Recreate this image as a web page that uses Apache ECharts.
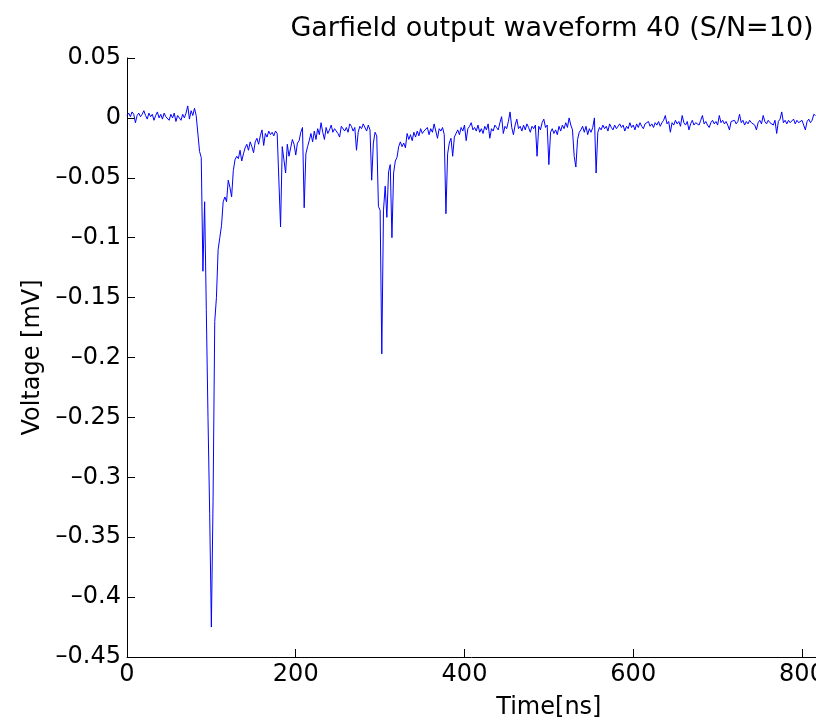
<!DOCTYPE html>
<html>
<head>
<meta charset="utf-8">
<script src="https://cdn.jsdelivr.net/npm/echarts@6/dist/echarts.min.js"></script>
<style>html,body{margin:0;padding:0;background:#fff;}#c{width:816px;height:723px;}</style>
</head>
<body>
<div id="c"></div>
<script>
// Waveform samples, one every 2 ns starting at t = 0 ns
const timeStepNs = 2;
const voltage = [
  0.002, 0.004, 0.001, 0.005, 0.003, -0.004, 0.002, 0.004, 0.001, 0.003,
  0.006, 0.002, -0.001, 0.004, 0.001, 0.003, -0.002, 0.002, 0.005, 0.000,
  0.003, -0.001, 0.004, 0.001, 0.002, -0.002, 0.003, 0.000, 0.004, -0.003,
  0.002, 0.001, -0.002, 0.003, 0.000, 0.004, 0.010, -0.001, 0.006, 0.002,
  0.008, 0.002, 0.003, -0.028, -0.033, -0.128, -0.070, -0.160, -0.250, -0.330,
  -0.425, -0.320, -0.170, -0.150, -0.110, -0.100, -0.090, -0.070, -0.066, -0.070,
  -0.052, -0.058, -0.066, -0.044, -0.035, -0.032, -0.034, -0.027, -0.036, -0.030,
  -0.025, -0.022, -0.027, -0.020, -0.024, -0.029, -0.020, -0.017, -0.022, -0.015,
  -0.010, -0.023, -0.013, -0.016, -0.011, -0.014, -0.012, -0.015, -0.011, -0.013,
  -0.014, -0.091, -0.024, -0.035, -0.046, -0.022, -0.032, -0.025, -0.018, -0.022,
  -0.031, -0.021, -0.019, -0.012, -0.008, -0.075, -0.030, -0.024, -0.019, -0.013,
  -0.020, -0.011, -0.018, -0.009, -0.014, -0.004, -0.012, -0.018, -0.008, -0.013,
  -0.010, -0.006, -0.012, -0.009, -0.008, -0.013, -0.016, -0.007, -0.006, -0.011,
  -0.008, -0.012, -0.005, -0.007, -0.011, -0.008, -0.027, -0.012, -0.007, -0.009,
  -0.005, -0.004, -0.011, -0.006, -0.010, -0.052, -0.021, -0.012, -0.015, -0.074,
  -0.077, -0.197, -0.077, -0.057, -0.083, -0.045, -0.039, -0.100, -0.046, -0.036,
  -0.033, -0.024, -0.020, -0.024, -0.021, -0.025, -0.013, -0.018, -0.014, -0.019,
  -0.012, -0.016, -0.011, -0.015, -0.009, -0.013, -0.011, -0.010, -0.008, -0.014,
  -0.009, -0.012, -0.005, -0.004, -0.017, -0.009, -0.011, -0.008, -0.014, -0.080,
  -0.030, -0.021, -0.017, -0.032, -0.016, -0.013, -0.010, -0.014, -0.008, -0.011,
  -0.006, -0.019, -0.009, -0.007, -0.004, -0.010, -0.008, -0.011, -0.006, -0.012,
  -0.009, -0.013, -0.007, -0.010, -0.005, -0.017, -0.009, -0.011, -0.006, -0.008,
  -0.010, -0.004, 0.001, -0.013, -0.007, -0.009, -0.003, 0.005, -0.008, -0.014,
  -0.006, -0.001, -0.009, -0.007, -0.011, -0.006, -0.010, -0.005, -0.008, -0.012,
  -0.007, -0.009, -0.006, -0.032, -0.007, -0.010, -0.004, -0.001, -0.008, -0.006,
  -0.039, -0.012, -0.009, -0.013, -0.010, -0.014, -0.007, -0.011, -0.006, -0.009,
  -0.004, -0.008, 0.000, -0.006, -0.010, -0.032, -0.041, -0.018, -0.012, -0.010,
  -0.007, -0.012, -0.007, -0.014, -0.009, -0.012, -0.008, 0.000, -0.046, -0.012,
  -0.008, -0.010, -0.006, -0.009, -0.007, -0.011, -0.005, -0.008, -0.010, -0.006,
  -0.009, -0.007, -0.005, -0.008, -0.006, -0.011, -0.007, -0.009, -0.004, -0.008,
  -0.006, -0.010, -0.005, -0.008, -0.004, -0.007, -0.009, -0.005, -0.006, -0.003,
  -0.007, -0.005, -0.008, -0.004, -0.006, -0.003, -0.007, -0.004, -0.002, 0.002,
  -0.005, -0.003, -0.012, -0.004, -0.006, -0.002, -0.005, -0.003, -0.007, 0.002,
  -0.004, -0.006, -0.003, -0.010, -0.005, -0.002, -0.006, -0.004, -0.003, -0.006,
  -0.002, 0.002, -0.005, -0.003, -0.006, -0.008, -0.004, -0.002, -0.005, -0.003,
  -0.006, 0.002, -0.004, -0.002, -0.005, -0.003, -0.006, -0.010, -0.003, -0.004,
  -0.002, -0.005, -0.003, 0.003, -0.004, -0.002, -0.006, -0.003, -0.005, -0.002,
  -0.004, -0.003, -0.006, -0.010, -0.004, -0.002, -0.005, 0.002, -0.003, -0.005,
  -0.002, -0.004, -0.003, -0.006, -0.002, -0.013, -0.003, -0.001, 0.005, -0.004,
  -0.002, -0.005, -0.002, -0.004, -0.003, -0.001, -0.005, -0.002, -0.004, -0.003,
  -0.002, -0.006, -0.010, -0.003, -0.001, -0.004, -0.002, 0.003, 0.002
];
// The original axis runs to 1000 ns but the picture is cropped at ~816 ns
const xTicks = [0, 200, 400, 600, 800];
const xVisibleMax = 816.6;
const xFullMax = 1000;
const yTicks = [0.05, 0, -0.05, -0.1, -0.15, -0.2, -0.25, -0.3, -0.35, -0.4, -0.45];
const titleText = 'Garfield output waveform 40 (S/N=10)';
const xName = 'Time[ns]';
const yName = 'Voltage [mV]';

const points = voltage.map((v, i) => [i * timeStepNs, v]);
const FONT = '"DejaVu Sans", sans-serif';

const chart = echarts.init(document.getElementById('c'), null, {renderer: 'canvas'});
chart.setOption({
  animation: false,
  backgroundColor: '#ffffff',
  title: {
    text: titleText,
    left: 547, top: 10, textAlign: 'center',
    textStyle: {fontFamily: FONT, fontSize: 27, fontWeight: 'normal', color: '#000'}
  },
  grid: {left: 127, right: 0, top: 58, bottom: 66, containLabel: false, outerBoundsMode: 'none'},
  xAxis: {
    type: 'value',
    min: xTicks[0], max: xVisibleMax, interval: xTicks[1] - xTicks[0],
    axisLine: {show: true, onZero: false, lineStyle: {color: '#000', width: 1}},
    axisTick: {show: true, inside: true, length: 8, lineStyle: {color: '#000'}},
    axisLabel: {fontFamily: FONT, fontSize: 24, color: '#000', margin: 6,
      showMaxLabel: false, hideOverlap: false, formatter: v => String(v)},
    splitLine: {show: false}
  },
  yAxis: {
    type: 'value',
    min: yTicks[yTicks.length - 1], max: yTicks[0], interval: 0.05,
    name: yName, nameLocation: 'middle', nameGap: 80,
    nameTextStyle: {fontFamily: FONT, fontSize: 24, color: '#000'},
    axisLine: {show: true, lineStyle: {color: '#000', width: 1}},
    axisTick: {show: true, inside: true, length: 8, lineStyle: {color: '#000'}},
    axisLabel: {
      fontFamily: FONT, fontSize: 24, color: '#000', margin: 6,
      formatter: v => String(Math.round(v * 100) / 100).replace('-', '\u2013')
    },
    splitLine: {show: false}
  },
  series: [{
    type: 'line',
    data: points,
    showSymbol: false,
    symbol: 'none',
    sampling: false,
    lineStyle: {color: '#0000ff', width: 1},
    silent: true
  }]
});

// x-axis name centred under the full (cropped) 0–1000 ns axis
const axisMidPx = chart.convertToPixel({xAxisIndex: 0}, xFullMax / 2);
chart.setOption({
  graphic: [{
    type: 'text',
    x: axisMidPx, y: 708,
    style: {text: xName, font: '24px "DejaVu Sans", sans-serif', fill: '#000',
      align: 'center', verticalAlign: 'middle'}
  }]
});
</script>
</body>
</html>
